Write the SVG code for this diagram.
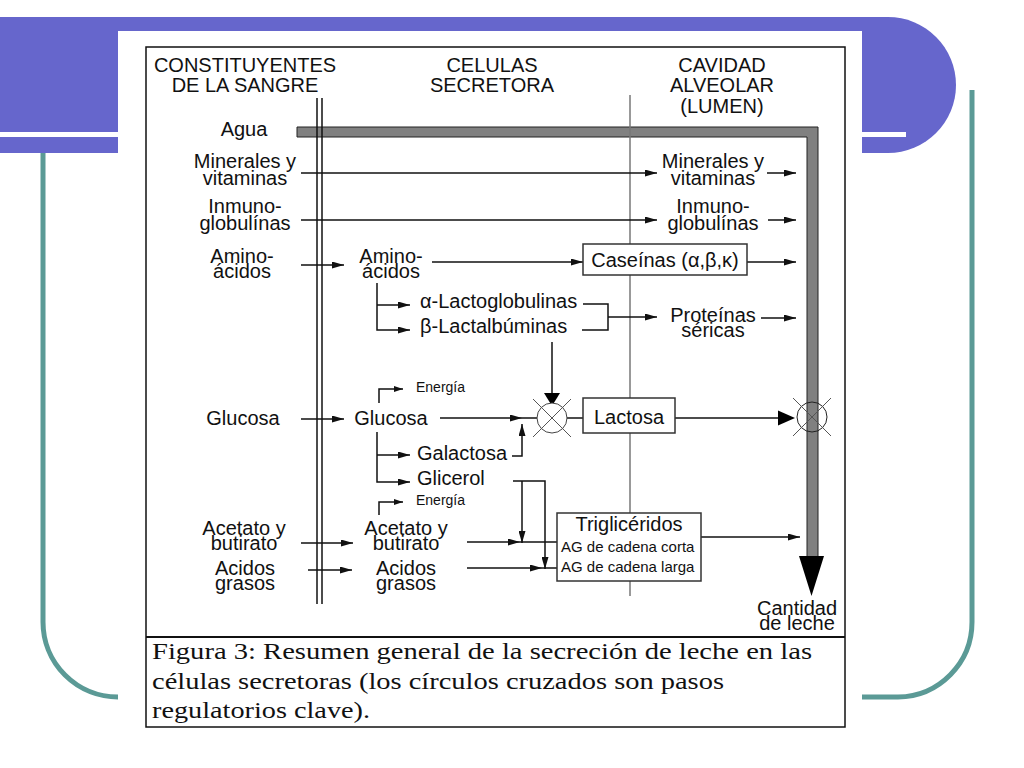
<svg xmlns="http://www.w3.org/2000/svg" width="1024" height="768" viewBox="0 0 1024 768">
<style>
.t{font-family:"Liberation Sans",Arial,sans-serif;font-size:20px;fill:#111;}
.m{text-anchor:middle;}
.s{font-family:"Liberation Sans",Arial,sans-serif;font-size:14px;fill:#111;}
.ag{font-family:"Liberation Sans",Arial,sans-serif;font-size:15px;fill:#111;}
.cap{font-family:"Liberation Serif","Times New Roman",serif;font-size:24px;fill:#111;}
.c{fill:none;stroke:#111;stroke-width:1.5;}
.ca{fill:none;stroke:#111;stroke-width:1.5;marker-end:url(#a);}
.ce{fill:none;stroke:#111;stroke-width:1.5;marker-end:url(#e);}
.box{fill:#fff;stroke:#333;stroke-width:1.5;}
.x{stroke:#555;stroke-width:1;}
</style>
<defs>
<marker id="a" markerUnits="userSpaceOnUse" markerWidth="12" markerHeight="7" refX="12" refY="3.5" orient="auto"><path d="M0,0 L12,3.5 L0,7 Z" fill="#111"/></marker>
<marker id="e" markerUnits="userSpaceOnUse" markerWidth="9" markerHeight="6" refX="9" refY="3" orient="auto"><path d="M0,0 L9,3 L0,6 Z" fill="#111"/></marker>
</defs>
<rect width="1024" height="768" fill="#fff"/>
<g id="slide-bg">
<path d="M43,150 V622 A75,75 0 0 0 118,697 H898 A75,75 0 0 0 972,622 V90" fill="none" stroke="#5b9a96" stroke-width="5"/>
<path d="M0,17 H888 A68,68 0 0 1 888,153 H0 Z" fill="#6666cc"/>
<rect x="0" y="132" width="906" height="5" fill="#fff"/>
<rect x="118" y="31" width="744" height="700" fill="#fff"/>
</g>
<g id="frame">
<rect x="146" y="47" width="699" height="680" fill="none" stroke="#111" stroke-width="1.5"/>
<line x1="146" y1="637" x2="845" y2="637" stroke="#111" stroke-width="2.2"/>
</g>
<g id="headers">
<text class="t m" x="245" y="72">CONSTITUYENTES</text>
<text class="t m" x="245" y="92">DE LA SANGRE</text>
<text class="t m" x="492" y="72">CELULAS</text>
<text class="t m" x="492" y="92">SECRETORA</text>
<text class="t m" x="722" y="72">CAVIDAD</text>
<text class="t m" x="722" y="92">ALVEOLAR</text>
<text class="t m" x="722" y="113">(LUMEN)</text>
</g>
<g id="agua-bar">
<path d="M297,127 H818 V557 H807 V137 H297 Z" fill="#808080" stroke="#222" stroke-width="1"/>
<polygon points="799,556 824,556 811.5,596" fill="#000"/>
</g>
<g id="membranes">
<line x1="317" y1="98" x2="317" y2="604" stroke="#111" stroke-width="1.5"/>
<line x1="322" y1="98" x2="322" y2="604" stroke="#111" stroke-width="1.5"/>
<line x1="630" y1="95" x2="630" y2="596" stroke="#777" stroke-width="1.5"/>
</g>
<g id="connectors">
<line class="ca" x1="301" y1="173" x2="657" y2="173"/>
<line class="ca" x1="767" y1="173" x2="796" y2="173"/>
<line class="ca" x1="301" y1="220" x2="657" y2="220"/>
<line class="ca" x1="768" y1="220" x2="796" y2="220"/>
<line class="ca" x1="301" y1="265" x2="344" y2="265"/>
<line class="ca" x1="432" y1="262" x2="583" y2="262"/>
<line class="ca" x1="747" y1="262" x2="796" y2="262"/>
<path class="ca" d="M377,283 V330 H410"/>
<line class="ca" x1="377" y1="305" x2="410" y2="305"/>
<path class="c" d="M583,304 H608 V330 H582"/>
<line class="ca" x1="608" y1="317" x2="657" y2="317"/>
<line class="ca" x1="761" y1="318" x2="796" y2="318"/>
<line class="c" x1="552" y1="342" x2="552" y2="395"/>
<polygon points="544,393 560,393 552,406" fill="#000"/>
<line class="ca" x1="301" y1="419" x2="344" y2="419"/>
<path class="ce" d="M379,403 V389 H403"/>
<line class="ca" x1="440" y1="418" x2="522" y2="418"/>
<line class="c" x1="522" y1="418" x2="583" y2="418"/>
<path class="ca" d="M377,432 V482 H410"/>
<line class="ca" x1="377" y1="455" x2="410" y2="455"/>
<path class="ca" d="M512,456 H522 V424"/>
<line class="c" x1="675" y1="418" x2="780" y2="418"/>
<polygon points="778,410.5 778,425.5 795,418" fill="#000"/>
<path class="ca" d="M513,481 H545 V569"/>
<line class="ca" x1="522" y1="481" x2="522" y2="543"/>
<path class="ce" d="M379,515 V502 H403"/>
<line class="ca" x1="301" y1="543" x2="353" y2="543"/>
<line class="ca" x1="308" y1="570" x2="352" y2="570"/>
<line class="ca" x1="467" y1="542" x2="520" y2="542"/>
<line class="c" x1="520" y1="542" x2="557" y2="542"/>
<line class="ca" x1="467" y1="568" x2="542" y2="568"/>
<line class="c" x1="542" y1="568" x2="557" y2="568"/>
<line class="ca" x1="701" y1="537" x2="800" y2="537"/>
</g>
<g id="reg-step-1">
<circle cx="552" cy="418" r="15" fill="#fff" stroke="#444" stroke-width="1"/>
<line class="x" x1="533" y1="399" x2="571" y2="437"/>
<line class="x" x1="571" y1="399" x2="533" y2="437"/>
</g>
<g id="reg-step-2">
<circle cx="812" cy="417" r="15" fill="none" stroke="#222" stroke-width="1"/>
<line class="x" x1="793" y1="398" x2="831" y2="436"/>
<line class="x" x1="831" y1="398" x2="793" y2="436"/>
</g>
<g id="left-labels">
<text class="t m" x="244" y="136">Agua</text>
<text class="t m" x="245" y="168">Minerales y</text>
<text class="t m" x="245" y="185">vitaminas</text>
<text class="t m" x="245" y="213">Inmuno-</text>
<text class="t m" x="245" y="230">globulínas</text>
<text class="t m" x="242" y="263">Amino-</text>
<text class="t m" x="242" y="278">ácidos</text>
<text class="t m" x="243" y="425">Glucosa</text>
<text class="t m" x="244" y="535">Acetato y</text>
<text class="t m" x="244" y="550">butirato</text>
<text class="t m" x="245" y="575">Acidos</text>
<text class="t m" x="245" y="590">grasos</text>
</g>
<g id="cell-labels">
<text class="t m" x="391" y="263">Amino-</text>
<text class="t m" x="391" y="278">ácidos</text>
<text class="t" x="420" y="308">α-Lactoglobulinas</text>
<text class="t" x="420" y="333">β-Lactalbúminas</text>
<text class="s" x="416" y="392">Energía</text>
<text class="t m" x="391" y="425">Glucosa</text>
<text class="t" x="417" y="460">Galactosa</text>
<text class="t" x="417" y="485">Glicerol</text>
<text class="s" x="416" y="505">Energía</text>
<text class="t m" x="406" y="535">Acetato y</text>
<text class="t m" x="406" y="550">butirato</text>
<text class="t m" x="406" y="575">Acidos</text>
<text class="t m" x="406" y="590">grasos</text>
</g>
<g id="caseinas">
<rect class="box" x="583" y="244" width="164" height="31"/>
<text class="t m" x="665" y="267">Caseínas (α,β,κ)</text>
</g>
<g id="lactosa">
<rect class="box" x="583" y="398" width="92" height="35"/>
<text class="t m" x="629" y="424">Lactosa</text>
</g>
<g id="trigliceridos">
<rect class="box" x="557" y="513" width="144" height="68"/>
<text class="t m" x="629" y="531">Triglicéridos</text>
<text class="ag" x="561" y="552">AG de cadena corta</text>
<text class="ag" x="561" y="572">AG de cadena larga</text>
</g>
<g id="lumen-labels">
<text class="t m" x="713" y="168">Minerales y</text>
<text class="t m" x="713" y="185">vitaminas</text>
<text class="t m" x="713" y="213">Inmuno-</text>
<text class="t m" x="713" y="230">globulínas</text>
<text class="t m" x="713" y="322">Proteínas</text>
<text class="t m" x="713" y="337">séricas</text>
<text class="t m" x="797" y="615">Cantidad</text>
<text class="t m" x="797" y="630">de leche</text>
</g>
<g id="caption">
<text class="cap" x="152" y="659" textLength="660" lengthAdjust="spacingAndGlyphs">Figura 3:  Resumen general de la secreción de leche en las</text>
<text class="cap" x="152" y="689" textLength="572" lengthAdjust="spacingAndGlyphs">células secretoras (los círculos cruzados son pasos</text>
<text class="cap" x="152" y="718" textLength="218" lengthAdjust="spacingAndGlyphs">regulatorios clave).</text>
</g>
</svg>
